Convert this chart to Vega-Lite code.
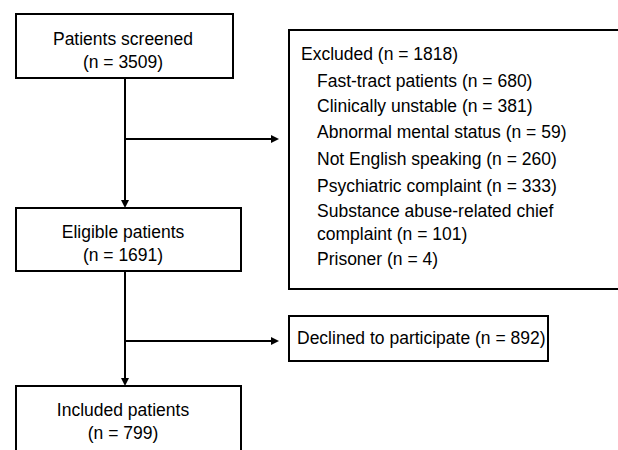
{
  "$schema": "https://vega.github.io/schema/vega-lite/v6.json",
  "width": 618,
  "height": 450,
  "autosize": {"type": "fit", "contains": "padding"},
  "padding": 0,
  "background": "white",
  "config": {"view": {"stroke": null}},
  "datasets": {
    "boxes": [
      {"name": "screened", "x": 16, "x2": 233, "y": 14, "y2": 78},
      {"name": "excluded", "x": 289, "x2": 630, "y": 30, "y2": 289},
      {"name": "eligible", "x": 16, "x2": 241, "y": 208, "y2": 271},
      {"name": "declined", "x": 289, "x2": 548, "y": 316, "y2": 361},
      {"name": "included", "x": 16, "x2": 241, "y": 386, "y2": 470}
    ],
    "links": [
      {"x": 125, "x2": 125, "y": 78, "y2": 202},
      {"x": 125, "x2": 272, "y": 139, "y2": 139},
      {"x": 125, "x2": 125, "y": 271, "y2": 380},
      {"x": 125, "x2": 272, "y": 341, "y2": 341}
    ],
    "heads": [
      {"x": 125, "y": 208, "dir": "down"},
      {"x": 279, "y": 139, "dir": "right"},
      {"x": 125, "y": 386, "dir": "down"},
      {"x": 279, "y": 341, "dir": "right"}
    ],
    "centered": [
      {"x": 123, "y": 40, "label": "Patients screened"},
      {"x": 123, "y": 63, "label": "(n = 3509)"},
      {"x": 123, "y": 233, "label": "Eligible patients"},
      {"x": 123, "y": 256, "label": "(n = 1691)"},
      {"x": 123, "y": 411, "label": "Included patients"},
      {"x": 123, "y": 434, "label": "(n = 799)"}
    ],
    "lefttext": [
      {"x": 301, "y": 55, "label": "Excluded (n = 1818)"},
      {"x": 317, "y": 82, "label": "Fast-tract patients  (n = 680)"},
      {"x": 317, "y": 107, "label": "Clinically unstable (n = 381)"},
      {"x": 317, "y": 133, "label": "Abnormal mental status (n = 59)"},
      {"x": 317, "y": 160, "label": "Not English speaking (n = 260)"},
      {"x": 317, "y": 187, "label": "Psychiatric complaint  (n = 333)"},
      {"x": 317, "y": 212, "label": "Substance abuse-related chief"},
      {"x": 317, "y": 235, "label": "complaint (n = 101)"},
      {"x": 317, "y": 260, "label": "Prisoner  (n = 4)"},
      {"x": 297, "y": 339, "label": "Declined to participate (n = 892)"}
    ]
  },
  "layer": [
    {
      "data": {"name": "boxes"},
      "mark": {"type": "rect", "fill": "white", "stroke": "black", "strokeWidth": 2, "clip": true},
      "encoding": {
        "x": {"field": "x", "type": "quantitative", "scale": {"domain": [0, 618]}, "axis": null},
        "x2": {"field": "x2"},
        "y": {"field": "y", "type": "quantitative", "scale": {"domain": [0, 450], "reverse": true}, "axis": null},
        "y2": {"field": "y2"}
      }
    },
    {
      "data": {"name": "links"},
      "mark": {"type": "rule", "color": "black", "strokeWidth": 2},
      "encoding": {
        "x": {"field": "x", "type": "quantitative", "scale": {"domain": [0, 618]}, "axis": null},
        "x2": {"field": "x2"},
        "y": {"field": "y", "type": "quantitative", "scale": {"domain": [0, 450], "reverse": true}, "axis": null},
        "y2": {"field": "y2"}
      }
    },
    {
      "data": {"name": "heads"},
      "mark": {"type": "point", "filled": true, "color": "black", "opacity": 1, "size": 64},
      "encoding": {
        "x": {"field": "x", "type": "quantitative", "scale": {"domain": [0, 618]}, "axis": null},
        "y": {"field": "y", "type": "quantitative", "scale": {"domain": [0, 450], "reverse": true}, "axis": null},
        "shape": {"field": "dir", "type": "nominal", "legend": null,
          "scale": {"domain": ["right", "down"], "range": ["M0,0L-2,-1L-2,1Z", "M0,0L-1,-2L1,-2Z"]}}
      }
    },
    {
      "data": {"name": "centered"},
      "mark": {"type": "text", "align": "center", "baseline": "middle", "font": "Liberation Sans", "fontSize": 17.5, "color": "black"},
      "encoding": {
        "x": {"field": "x", "type": "quantitative", "scale": {"domain": [0, 618]}, "axis": null},
        "y": {"field": "y", "type": "quantitative", "scale": {"domain": [0, 450], "reverse": true}, "axis": null},
        "text": {"field": "label"}
      }
    },
    {
      "data": {"name": "lefttext"},
      "mark": {"type": "text", "align": "left", "baseline": "middle", "font": "Liberation Sans", "fontSize": 17.5, "color": "black"},
      "encoding": {
        "x": {"field": "x", "type": "quantitative", "scale": {"domain": [0, 618]}, "axis": null},
        "y": {"field": "y", "type": "quantitative", "scale": {"domain": [0, 450], "reverse": true}, "axis": null},
        "text": {"field": "label"}
      }
    }
  ]
}
